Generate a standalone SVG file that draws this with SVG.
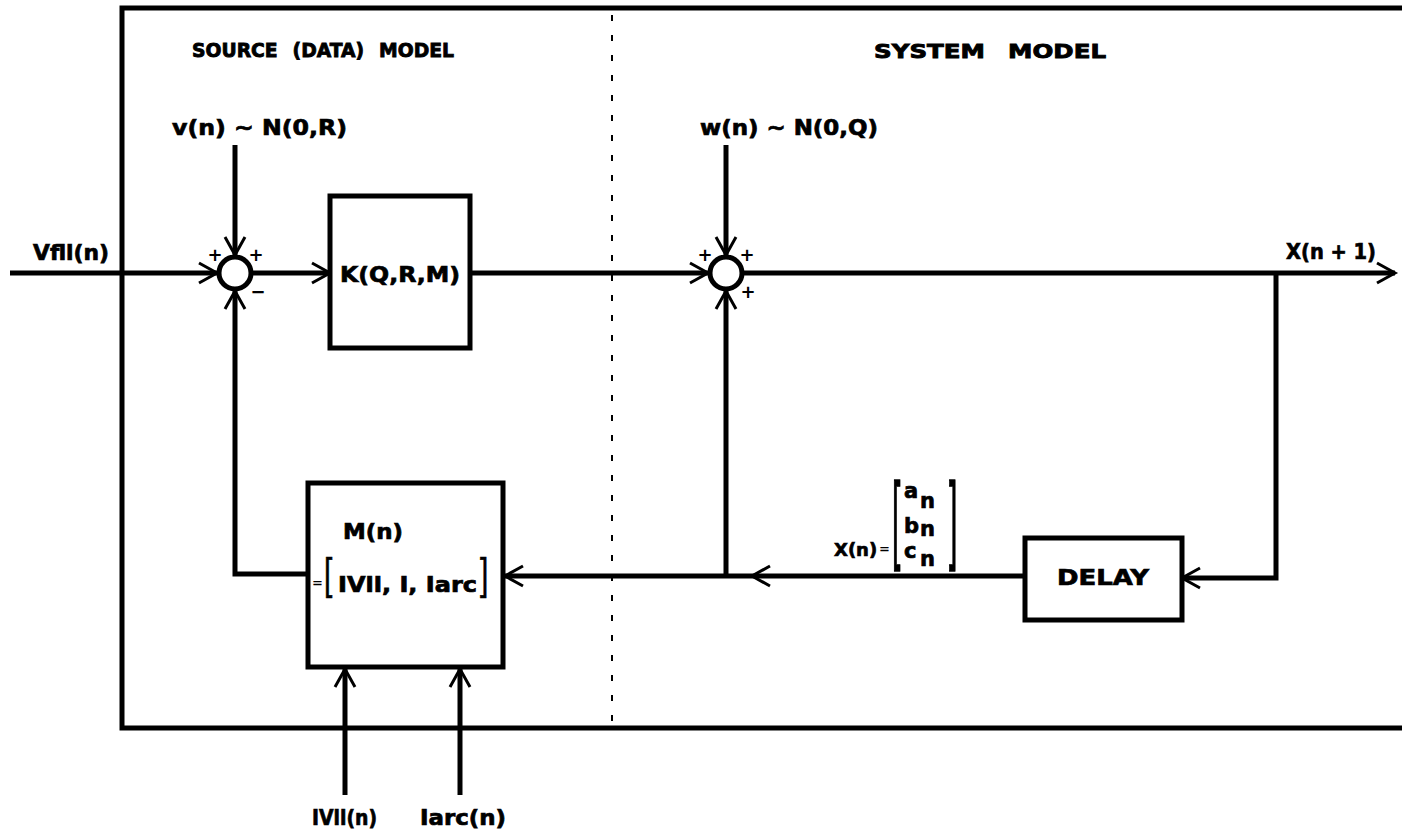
<svg xmlns="http://www.w3.org/2000/svg" width="1402" height="836" viewBox="0 0 1402 836">
<style>
.ln{fill:none;stroke:#000;stroke-width:5;stroke-linejoin:miter}
.box{fill:#fff;stroke:#000;stroke-width:5}
.sum{fill:#fff;stroke:#000;stroke-width:5}
.t{font-family:"DejaVu Sans","Liberation Sans",sans-serif;font-weight:bold;font-size:21px;fill:#000;stroke:#000;stroke-width:0.7}
.h{font-family:"DejaVu Sans","Liberation Sans",sans-serif;font-weight:bold;font-size:20px;fill:#000;stroke:#000;stroke-width:0.9}
.s{font-family:"DejaVu Sans","Liberation Sans",sans-serif;font-weight:bold;font-size:18px;fill:#000}
.eq{font-family:"DejaVu Sans","Liberation Sans",sans-serif;font-weight:bold;font-size:13px;fill:#000}
.br{font-family:"Liberation Sans",sans-serif;font-weight:normal;font-size:30px;fill:#000;stroke:#000;stroke-width:0.4}
</style>
<defs>
<marker id="arr" markerUnits="userSpaceOnUse" markerWidth="26" markerHeight="26" refX="21" refY="13" orient="auto">
<path d="M3,3 L21,13 L3,23" fill="none" stroke="#000" stroke-width="3"/>
</marker>
</defs>
<g id="frame">
<path class="ln" d="M1402,8 H122 V728 H1402"/>
<line x1="612" y1="15" x2="612" y2="722" stroke="#000" stroke-width="2" stroke-dasharray="6 14"/>
<text class="h" x="192" y="57" textLength="262" lengthAdjust="spacingAndGlyphs" style="word-spacing:9px">SOURCE (DATA) MODEL</text>
<text class="h" x="874" y="58" textLength="232" lengthAdjust="spacingAndGlyphs" style="word-spacing:12px">SYSTEM MODEL</text>
</g>
<g id="connectors">
<path class="ln" d="M10,273 H217" marker-end="url(#arr)"/>
<path class="ln" d="M235,145 V255" marker-end="url(#arr)"/>
<path class="ln" d="M253,273 H330" marker-end="url(#arr)"/>
<path class="ln" d="M470,273 H708" marker-end="url(#arr)"/>
<path class="ln" d="M726,145 V255" marker-end="url(#arr)"/>
<path class="ln" d="M744,273 H1395" marker-end="url(#arr)"/>
<path class="ln" d="M1276,273 V578 H1182" marker-end="url(#arr)"/>
<path class="ln" d="M1025,576 H752" marker-end="url(#arr)"/>
<path class="ln" d="M752,576 H505" marker-end="url(#arr)"/>
<path class="ln" d="M726,576 V291" marker-end="url(#arr)"/>
<path class="ln" d="M308,574 H235 V291" marker-end="url(#arr)"/>
<path class="ln" d="M345,795 V669" marker-end="url(#arr)"/>
<path class="ln" d="M460,795 V669" marker-end="url(#arr)"/>
</g>
<g id="sum1">
<circle class="sum" cx="235" cy="273" r="16"/>
<text class="s" x="215" y="261" text-anchor="middle">+</text>
<text class="s" x="256" y="261" text-anchor="middle">+</text>
<text class="s" x="258" y="298" text-anchor="middle">−</text>
</g>
<g id="sum2">
<circle class="sum" cx="726" cy="273" r="16"/>
<text class="s" x="705" y="261" text-anchor="middle">+</text>
<text class="s" x="747" y="261" text-anchor="middle">+</text>
<text class="s" x="748" y="298" text-anchor="middle">+</text>
</g>
<g id="labels">
<text class="t" x="33" y="260" textLength="76" lengthAdjust="spacingAndGlyphs">Vfll(n)</text>
<text class="t" x="172" y="135" textLength="175" lengthAdjust="spacingAndGlyphs">v(n) ~ N(0,R)</text>
<text class="t" x="700" y="135" textLength="178" lengthAdjust="spacingAndGlyphs">w(n) ~ N(0,Q)</text>
<text class="t" x="1286" y="259" textLength="90" lengthAdjust="spacingAndGlyphs">X(n + 1)</text>
<text class="t" x="312" y="825" textLength="65" lengthAdjust="spacingAndGlyphs">IVll(n)</text>
<text class="t" x="420" y="825" textLength="86" lengthAdjust="spacingAndGlyphs">Iarc(n)</text>
</g>
<g id="kbox">
<rect class="box" x="330" y="196" width="140" height="152"/>
<text class="t" x="400" y="282" text-anchor="middle" textLength="120" lengthAdjust="spacingAndGlyphs">K(Q,R,M)</text>
</g>
<g id="mbox">
<rect class="box" x="308" y="483" width="195" height="184"/>
<text class="t" x="343" y="539" textLength="60" lengthAdjust="spacingAndGlyphs">M(n)</text>
<text class="eq" x="312" y="587">=</text>
<text class="br" x="0" y="0" transform="translate(324,589) scale(1,1.5)">[</text>
<text class="t" x="338" y="592" textLength="139" lengthAdjust="spacingAndGlyphs">IVll, I, Iarc</text>
<text class="br" x="0" y="0" transform="translate(480,589) scale(1,1.5)">]</text>
</g>
<g id="xn">
<text class="t" x="834" y="556" style="font-size:18px">X(n)</text>
<text class="eq" x="879" y="553">=</text>
<text class="br" x="0" y="0" transform="translate(892,551) scale(1,3.27)">[</text>
<text class="t" x="904" y="498">a</text>
<text class="t" x="920" y="508">n</text>
<text class="t" x="904" y="533">b</text>
<text class="t" x="920" y="536">n</text>
<text class="t" x="904" y="558">c</text>
<text class="t" x="920" y="566">n</text>
<text class="br" x="0" y="0" transform="translate(949,551) scale(1,3.27)">]</text>
</g>
<g id="delay">
<rect class="box" x="1025" y="538" width="157" height="82"/>
<text class="t" x="1103" y="585" text-anchor="middle" textLength="92" lengthAdjust="spacingAndGlyphs">DELAY</text>
</g>
</svg>
